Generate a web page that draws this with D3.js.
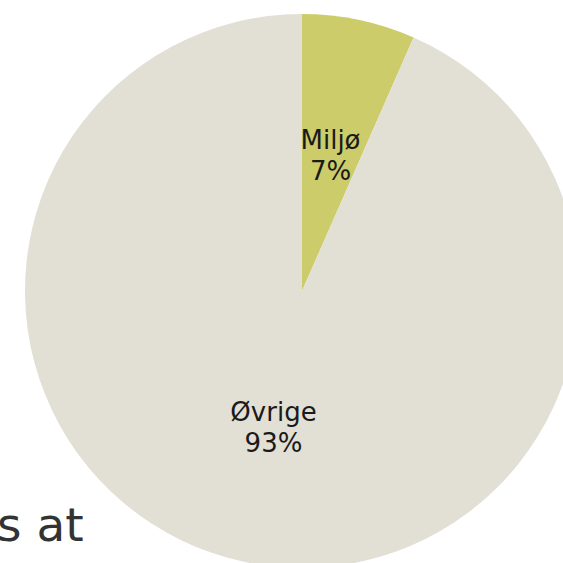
<!DOCTYPE html>
<html>
<head>
<meta charset="utf-8">
<script src="https://cdn.jsdelivr.net/npm/d3@7"></script>
<style>
  body { margin: 0; background: #fff; }
  svg { display: block; font-family: "DejaVu Sans", Verdana, sans-serif; }
</style>
</head>
<body>
<svg width="563" height="563"></svg>
<script>
const categories = ['Miljø', 'Øvrige'];
const values = [6.6, 93.4];
const pctLabels = ['7%', '93%'];
const colors = ['#cccc6a', '#e2dfd5'];

const svg = d3.select('svg');
const cx = 302, cy = 291, R = 277;

const pie = d3.pie().sort(null).value(d => d.v);
const arcs = pie(categories.map((c, i) => ({ c: c, v: values[i], p: pctLabels[i] })));
const arcMkr = d3.arc().innerRadius(0).outerRadius(R);
const lblArc = d3.arc().innerRadius(R / 2).outerRadius(R / 2);

const g = svg.append('g').attr('transform', 'translate(' + cx + ',' + cy + ')');
g.selectAll('path').data(arcs).enter()
  .append('path')
  .attr('d', arcMkr)
  .attr('fill', (d, i) => colors[i]);

const lbl = g.selectAll('text').data(arcs).enter()
  .append('text')
  .attr('transform', d => 'translate(' + lblArc.centroid(d) + ')')
  .attr('text-anchor', 'middle')
  .attr('font-size', 26)
  .attr('fill', '#1a1a1a');
lbl.append('tspan').attr('x', 0).attr('y', -6).text(d => d.data.c);
lbl.append('tspan').attr('x', 0).attr('y', 25).text(d => d.data.p);

svg.append('text')
  .attr('x', -3).attr('y', 541)
  .attr('font-size', 47)
  .attr('fill', '#333')
  .text('s at');
</script>
</body>
</html>
